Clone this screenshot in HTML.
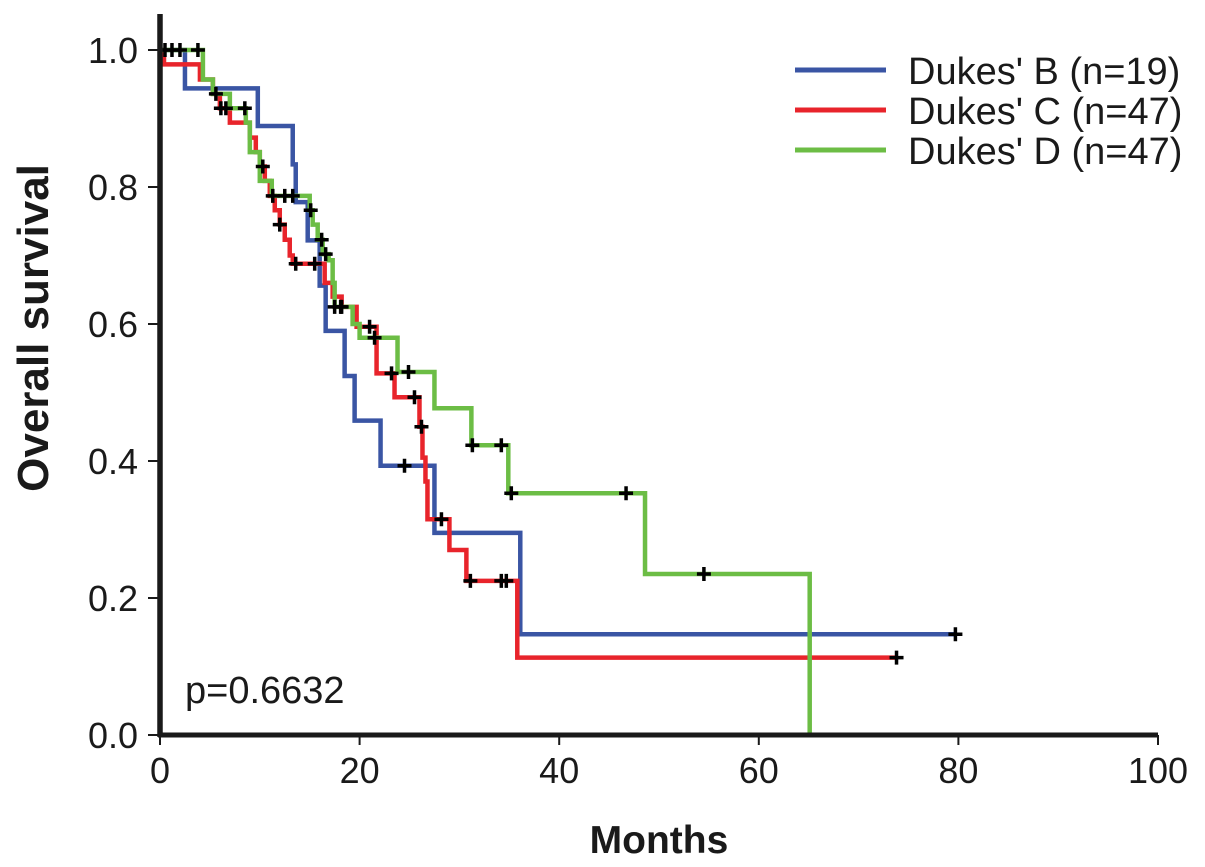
<!DOCTYPE html>
<html><head><meta charset="utf-8"><style>
html,body{margin:0;padding:0;background:#fff;}
svg{display:block;font-family:"Liberation Sans",Arial,sans-serif;}
</style></head><body>
<svg id="chart" width="1205" height="867" viewBox="0 0 1205 867" xmlns="http://www.w3.org/2000/svg">
<g id="plot"></g>
</svg>
<script>
const xTicks=[0,20,40,60,80,100];
const yTicks=[0.0,0.2,0.4,0.6,0.8,1.0];
const yTickLabels=["0.0","0.2","0.4","0.6","0.8","1.0"];
const blueTimes=[2.5,9.8,13.3,13.6,14.8,16.0,16.6,18.5,19.5,22.1,27.5,36.1];
const blueSurv=[0.944,0.889,0.833,0.778,0.722,0.656,0.59,0.524,0.459,0.393,0.295,0.147];
const blueEnd=79.7;
const blueCens=[24.5,79.7];
const redTimes=[0.4,4.0,5.3,6.0,7.0,9.0,9.6,10.0,10.5,11.0,11.5,12.0,12.5,13.0,13.3,16.5,17.3,18.2,19.7,21.7,23.5,26.0,26.3,26.6,26.8,29.0,30.7,35.8];
const redSurv=[0.979,0.957,0.936,0.915,0.894,0.872,0.851,0.83,0.809,0.787,0.766,0.745,0.723,0.70,0.688,0.66,0.64,0.625,0.596,0.528,0.493,0.45,0.405,0.37,0.315,0.27,0.225,0.113];
const redEnd=73.8;
const redCens=[5.6,6.1,6.6,10.3,11.3,12.0,13.6,15.5,18.2,21.0,23.2,25.5,26.2,28.2,31.1,34.2,34.7,73.8];
const greenTimes=[4.3,5.3,7.0,8.6,9.0,10.0,11.2,15.0,15.3,15.8,16.3,16.9,17.3,17.5,19.3,20.0,23.8,27.5,31.2,34.9,48.6,65.1];
const greenSurv=[0.957,0.936,0.915,0.894,0.851,0.809,0.787,0.766,0.745,0.723,0.702,0.693,0.66,0.625,0.60,0.58,0.53,0.477,0.423,0.353,0.235,0.0];
const greenEnd=65.1;
const greenCens=[0.5,1.2,2.0,3.8,8.5,12.5,13.3,15.1,16.2,16.6,17.5,18.1,21.5,24.9,31.3,34.2,35.2,46.7,54.5];

const NS="http://www.w3.org/2000/svg";
const g=document.getElementById('plot');
const X0=160,X1=1158,Y0=735,Y1=50;
const xs=t=>X0+(X1-X0)*t/100;
const ys=v=>Y0-(Y0-Y1)*v;
function mk(tag,attrs){const e=document.createElementNS(NS,tag);for(const k in attrs)e.setAttribute(k,attrs[k]);g.appendChild(e);return e;}
function sAt(times,surv,t){let s=1;for(let i=0;i<times.length;i++){if(times[i]<=t)s=surv[i];}return s;}

const series=[
 {name:'dukes-b',color:'#3a55a4',times:blueTimes,surv:blueSurv,end:blueEnd,cens:blueCens},
 {name:'dukes-c',color:'#e8242b',times:redTimes,surv:redSurv,end:redEnd,cens:redCens},
 {name:'dukes-d',color:'#6cbd45',times:greenTimes,surv:greenSurv,end:greenEnd,cens:greenCens}
];
series.forEach(s=>{
  let d='M'+xs(0)+','+ys(1);
  s.times.forEach((t,i)=>{d+=' H'+xs(t)+' V'+ys(s.surv[i]);});
  const last=s.times[s.times.length-1];
  if(s.end>last)d+=' H'+xs(s.end);
  const p=mk('path',{d:d,fill:'none',stroke:s.color,'stroke-width':4.5});
  
  
});
series.forEach(s=>{
  s.cens.forEach(t=>{
    const cx=xs(t),cy=ys(sAt(s.times,s.surv,t));
    const c=mk('path',{d:`M${cx-7},${cy} H${cx+7} M${cx},${cy-7} V${cy+7}`,stroke:'#000','stroke-width':3.5});
    
    
  });
});
const ya=mk('line',{x1:X0,y1:14,x2:X0,y2:Y0+2,stroke:'#1a1a1a','stroke-width':5.5});


const xa=mk('line',{x1:X0-2,y1:Y0,x2:X1,y2:Y0,stroke:'#1a1a1a','stroke-width':5});


xTicks.forEach(t=>{
  const l=mk('line',{x1:xs(t),y1:Y0,x2:xs(t),y2:Y0+10,stroke:'#1a1a1a','stroke-width':2});
  
  
  const tx=mk('text',{x:xs(t),y:Y0+48,'text-anchor':'middle','font-size':36,fill:'#1a1a1a'});
  tx.textContent=String(t);
  
  
});
yTicks.forEach((v,i)=>{
  const l=mk('line',{x1:X0-12,y1:ys(v),x2:X0,y2:ys(v),stroke:'#1a1a1a','stroke-width':2});
  
  
  const tx=mk('text',{x:X0-22,y:ys(v)+13,'text-anchor':'end','font-size':36,fill:'#1a1a1a'});
  tx.textContent=yTickLabels[i];
  
  
});
const xt=mk('text',{x:659,y:853,'text-anchor':'middle','font-size':39,'font-weight':'bold',fill:'#1a1a1a'});
xt.textContent='Months';


const yt=mk('text',{x:48,y:328,'text-anchor':'middle','font-size':44,'font-weight':'bold',fill:'#1a1a1a',transform:'rotate(-90 48 328)'});
yt.textContent='Overall survival';


const pv=mk('text',{x:185,y:703,'font-size':38,fill:'#1a1a1a'});
pv.textContent='p=0.6632';


const legendLabels=["Dukes' B (n=19)","Dukes' C (n=47)","Dukes' D (n=47)"];
series.forEach((s,i)=>{
  const y=70+40*i;
  const l=mk('line',{x1:795,y1:y,x2:886,y2:y,stroke:s.color,'stroke-width':5});
  
  
  const tx=mk('text',{x:908,y:y+14,'font-size':38,fill:'#1a1a1a'});
  tx.textContent=legendLabels[i];
  
  
});
</script>
</body></html>
